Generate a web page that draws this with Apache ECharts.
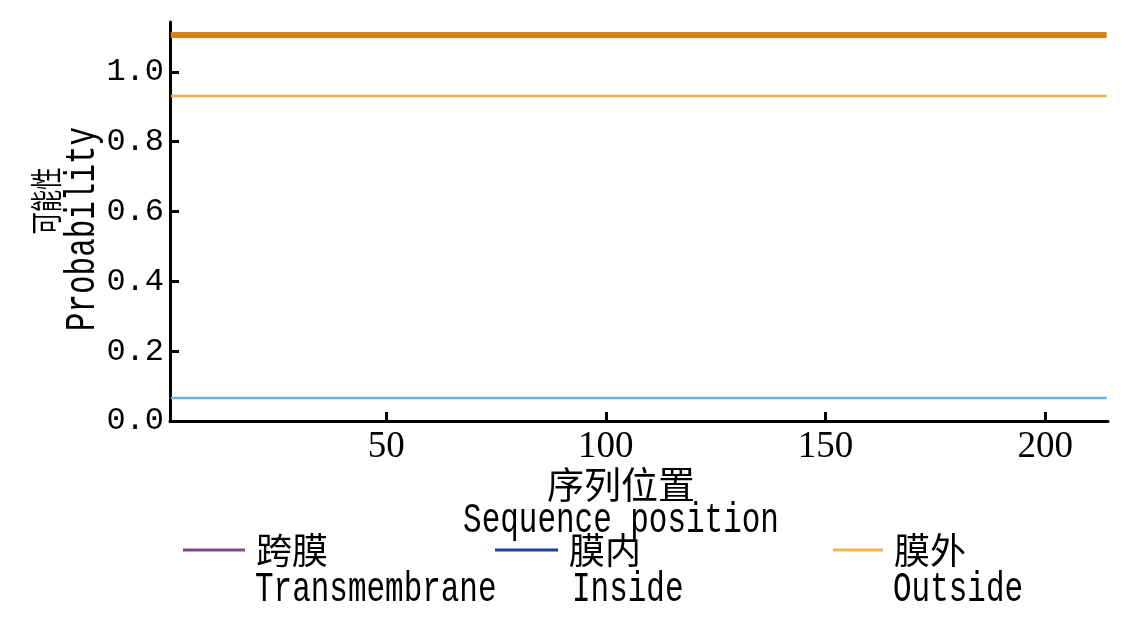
<!DOCTYPE html>
<html><head><meta charset="utf-8">
<script src="https://cdn.jsdelivr.net/npm/echarts@6/dist/echarts.min.js"></script>
<style>html,body{margin:0;padding:0;background:#fff}#c{width:1127px;height:630px}</style>
</head><body><div id="c"></div>
<script>
// Data
const positions = [1, 214];
const topologyBar = [1.106, 1.106];
const outsideProb = [0.931, 0.931];
const insideProb = [0.066, 0.066];
const transmembraneProb = [];
const xTicks = [50, 100, 150, 200];
const yTicks = [0, 0.2, 0.4, 0.6, 0.8, 1.0];
const legendNames = [['Transmembrane', '跨膜'], ['Inside', '膜内'], ['Outside', '膜外']];

const MONO = '"Liberation Mono", monospace';
const CJK = '"Noto Sans CJK SC"';
const toPts = arr => arr.map((v, i) => [positions[i], v]);

const chart = echarts.init(document.getElementById('c'));
function mkLegend(idx, left, w, color) {
  const [en, zh] = legendNames[idx];
  return {
    id: 'lg' + idx,
    left: left, top: 530,
    orient: 'horizontal', itemWidth: w, itemHeight: 3, itemGap: 0, padding: 0,
    data: [{ name: en, icon: 'rect', lineStyle: { color: color, width: 2.5 }, itemStyle: { color: color } }],
    formatter: () => zh,
    textStyle: { fontFamily: CJK, fontSize: 36, lineHeight: 40, color: '#000', padding: [0, 0, 0, 6] },
    selectedMode: false
  };
}
function monoText(txt, x, y, rot) {
  return { type: 'text', x: x, y: y, rotation: rot || 0, scaleX: 0.72, scaleY: 1,
    style: { text: txt, font: '43px ' + MONO, fill: '#000', align: rot ? 'center' : 'left', verticalAlign: 'middle' } };
}
chart.setOption({
  animation: false,
  backgroundColor: '#fff',
  grid: { left: 170, right: 19, top: 22, bottom: 209, containLabel: false },
  xAxis: {
    type: 'value', min: 0.8, max: 214.3,
    axisLine: { show: true, lineStyle: { color: '#000', width: 3 } },
    axisTick: { show: true, inside: true, length: 9, lineStyle: { color: '#000', width: 3 }, customValues: xTicks },
    axisLabel: { customValues: xTicks, color: '#000', fontFamily: '"Liberation Serif", serif', fontSize: 37, margin: 8 },
    splitLine: { show: false }
  },
  yAxis: {
    type: 'value', min: 0, max: 1.143,
    axisLine: { show: true, lineStyle: { color: '#000', width: 3 } },
    axisTick: { show: true, inside: true, length: 9, lineStyle: { color: '#000', width: 3 }, customValues: yTicks },
    axisLabel: { customValues: yTicks, color: '#000', fontFamily: MONO, fontSize: 32, margin: 6,
      formatter: v => v.toFixed(1) },
    splitLine: { show: false }
  },
  legend: [mkLegend(0, 183, 62, '#7b4b8e'), mkLegend(1, 495, 63, '#21409a'), mkLegend(2, 833, 50, '#f2b44c')],
  graphic: [
    { type: 'text', x: 621, y: 485, style: { text: '序列位置', font: '37px ' + CJK, fill: '#000', align: 'center', verticalAlign: 'middle' } },
    { type: 'text', x: 621, y: 521, scaleX: 0.72, style: { text: 'Sequence position', font: '43px ' + MONO, fill: '#000', align: 'center', verticalAlign: 'middle' } },
    { type: 'text', x: 46, y: 201, rotation: Math.PI / 2, scaleX: 0.7, style: { text: '可能性', font: '32px ' + CJK, fill: '#000', align: 'center', verticalAlign: 'middle' } },
    { type: 'text', x: 83, y: 229, rotation: Math.PI / 2, scaleX: 0.72, style: { text: 'Probability', font: '43px ' + MONO, fill: '#000', align: 'center', verticalAlign: 'middle' } },
    monoText(legendNames[0][0], 255, 590),
    monoText(legendNames[1][0], 572, 590),
    monoText(legendNames[2][0], 893, 590)
  ],
  series: [
    { name: 'Transmembrane', type: 'line', data: toPts(transmembraneProb), showSymbol: false, lineStyle: { color: '#7b4b8e', width: 2 }, itemStyle: { color: '#7b4b8e' } },
    { name: 'Inside', type: 'line', data: toPts(insideProb), showSymbol: false, lineStyle: { color: '#6ab6dd', width: 2.5 }, itemStyle: { color: '#6ab6dd' } },
    { name: 'Outside', type: 'line', data: toPts(outsideProb), showSymbol: false, lineStyle: { color: '#efb24e', width: 2.5 }, itemStyle: { color: '#efb24e' } },
    { name: 'topology', type: 'line', data: toPts(topologyBar), showSymbol: false, lineStyle: { color: '#d4821a', width: 6 }, itemStyle: { color: '#d4821a' } }
  ]
});
</script></body></html>
